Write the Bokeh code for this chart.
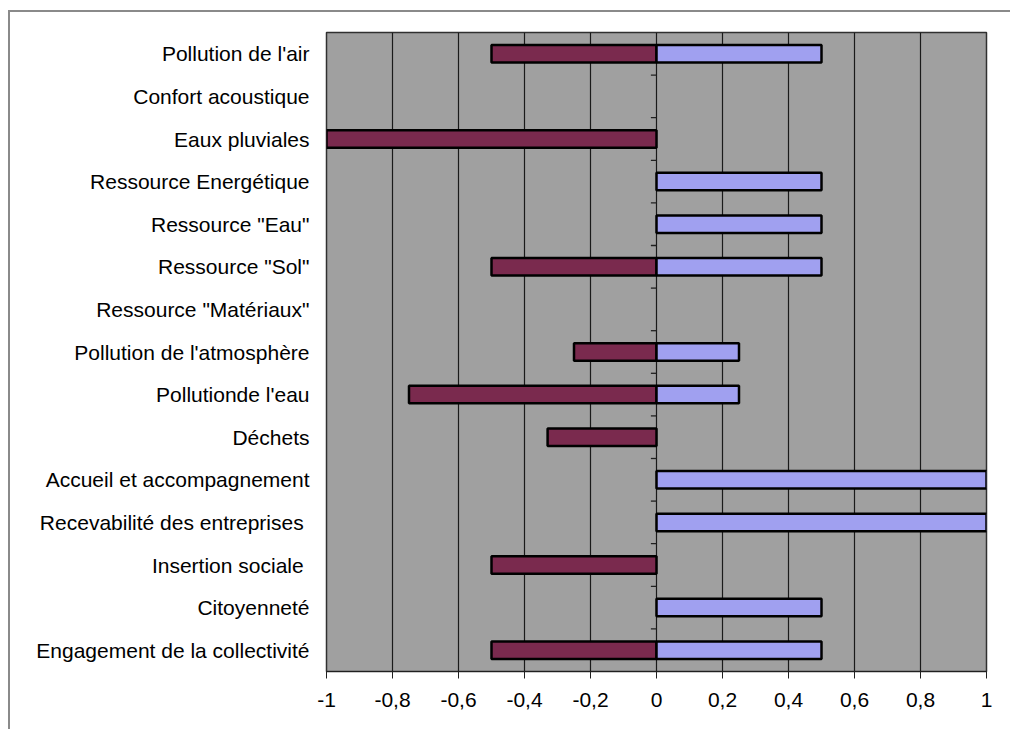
from bokeh.plotting import figure
from bokeh.models import Range1d, FixedTicker
from bokeh.embed import file_html
from bokeh.resources import INLINE

categories = [
    "Pollution de l'air",
    "Confort acoustique",
    "Eaux pluviales",
    "Ressource Energétique",
    "Ressource \"Eau\"",
    "Ressource \"Sol\"",
    "Ressource \"Matériaux\"",
    "Pollution de l'atmosphère",
    "Pollutionde l'eau",
    "Déchets",
    "Accueil et accompagnement",
    "Recevabilité des entreprises ",
    "Insertion sociale ",
    "Citoyenneté",
    "Engagement de la collectivité",
]
negative = [-0.5, 0, -1, 0, 0, -0.5, 0, -0.25, -0.75, -0.33, 0, 0, -0.5, 0, -0.5]
positive = [0.5, 0, 0, 0.5, 0.5, 0.5, 0, 0.25, 0.25, 0, 1, 1, 0, 0.5, 0.5]
x_ticks = [-1, -0.8, -0.6, -0.4, -0.2, 0, 0.2, 0.4, 0.6, 0.8, 1]
x_labels = ["-1", "-0,8", "-0,6", "-0,4", "-0,2", "0", "0,2", "0,4", "0,6", "0,8", "1"]

FONT = "Liberation Sans"
NEG_COLOR = "#7a2a4e"
POS_COLOR = "#a0a0f0"
BG = "#a0a0a0"

ypos = list(range(len(categories)))

p = figure(width=1002, height=719, output_backend="svg", toolbar_location=None,
           x_range=Range1d(-1, 1), y_range=Range1d(len(categories) - 0.5, -0.5),
           min_border_left=316, min_border_right=26, min_border_top=20, min_border_bottom=60)
p.styles = {"margin-left": "8px", "margin-top": "10px",
            "border-top": "2px solid #8a8a8a", "border-left": "2px solid #8a8a8a"}

p.background_fill_color = BG
p.border_fill_color = "white"
p.outline_line_color = "#303030"
p.outline_line_width = 1.5

# draw only non-zero bars
neg_y = [y for y, v in zip(ypos, negative) if v != 0]
neg_v = [v for v in negative if v != 0]
pos_y = [y for y, v in zip(ypos, positive) if v != 0]
pos_v = [v for v in positive if v != 0]

p.hbar(y=neg_y, left=0, right=neg_v, height=0.41,
       fill_color=NEG_COLOR, line_color="black", line_width=2.5)
p.hbar(y=pos_y, left=0, right=pos_v, height=0.41,
       fill_color=POS_COLOR, line_color="black", line_width=2.5)

# small category ticks on the zero line
bounds = [i + 0.5 for i in ypos[:-1]]
p.segment(x0=[-0.017] * len(bounds), x1=[0] * len(bounds), y0=bounds, y1=bounds,
          line_color="#202020", line_width=1.3)

# x axis
xa = p.xaxis[0]
xa.ticker = FixedTicker(ticks=x_ticks)
xa.major_label_overrides = {t: l for t, l in zip(x_ticks, x_labels)}
xa.major_label_text_font = FONT
xa.major_label_text_font_size = "21px"
xa.major_label_text_color = "black"
xa.axis_line_color = "#202020"
xa.major_tick_line_color = "#202020"
xa.major_tick_in = 0
xa.major_tick_out = 7
xa.minor_tick_line_color = None
xa.major_label_standoff = 14

# y axis (category labels)
ya = p.yaxis[0]
ya.ticker = FixedTicker(ticks=ypos)
ya.major_label_overrides = {i: c for i, c in zip(ypos, categories)}
ya.major_label_text_font = FONT
ya.major_label_text_font_size = "21px"
ya.major_label_text_color = "black"
ya.axis_line_color = None
ya.major_tick_line_color = None
ya.minor_tick_line_color = None
ya.major_label_standoff = 11

p.xgrid.grid_line_color = "#1a1a1a"
p.xgrid.grid_line_width = 1.2
p.ygrid.grid_line_color = None

open("out.html", "w").write(file_html(p, INLINE))
